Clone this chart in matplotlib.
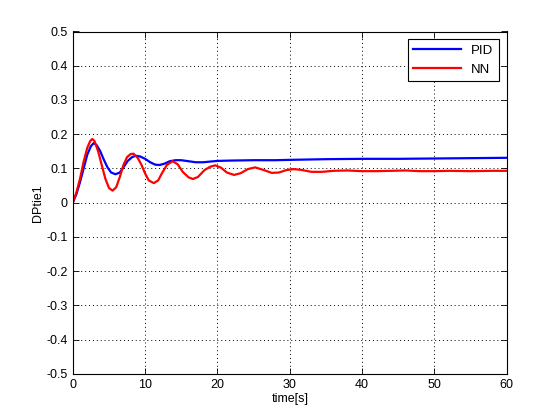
import numpy as np
import matplotlib

matplotlib.use("Agg")
import matplotlib.pyplot as plt

# values
t_pid = [0, 0.5, 1.0, 1.5, 2.0, 2.5, 2.9, 3.3, 3.8, 4.3, 4.8, 5.3, 5.9, 6.5, 7.0, 7.6,
         8.2, 8.7, 9.3, 10.0, 10.7, 11.4, 12.0, 12.7, 13.4, 14.2, 15.0, 16.0, 17.0,
         18.0, 19.0, 20.0, 22.0, 25.0, 28.0, 30.0, 35.0, 40.0, 45.0, 50.0, 55.0, 60.0]
pid = [0, 0.025, 0.06, 0.10, 0.14, 0.165, 0.174, 0.168, 0.15, 0.125, 0.103, 0.088,
       0.083, 0.088, 0.103, 0.122, 0.133, 0.137, 0.135, 0.128, 0.118, 0.111, 0.110,
       0.114, 0.121, 0.124, 0.124, 0.121, 0.118, 0.118, 0.120, 0.122, 0.123, 0.124,
       0.124, 0.125, 0.127, 0.128, 0.128, 0.129, 0.130, 0.131]

t_nn = [0, 0.5, 1.0, 1.5, 2.0, 2.4, 2.7, 3.0, 3.5, 4.0, 4.5, 5.0, 5.5, 6.0, 6.5, 7.0,
        7.5, 8.0, 8.4, 9.0, 9.5, 10.0, 10.5, 11.2, 11.8, 12.3, 13.0, 13.8, 14.5, 15.2,
        16.0, 16.6, 17.3, 18.2, 19.0, 19.7, 20.5, 21.3, 22.3, 23.2, 24.2, 25.2, 26.3,
        27.5, 28.5, 29.5, 30.5, 31.5, 33.0, 34.5, 36.0, 38.0, 40.0, 42.0, 44.0, 46.0,
        48.0, 50.0, 52.0, 55.0, 58.0, 60.0]
nn = [0, 0.03, 0.07, 0.12, 0.16, 0.18, 0.186, 0.18, 0.15, 0.11, 0.07, 0.043, 0.035,
      0.045, 0.075, 0.11, 0.133, 0.142, 0.143, 0.13, 0.11, 0.085, 0.065, 0.057, 0.065,
      0.085, 0.11, 0.121, 0.112, 0.09, 0.074, 0.069, 0.075, 0.095, 0.105, 0.109, 0.102,
      0.088, 0.081, 0.086, 0.098, 0.103, 0.096, 0.087, 0.088, 0.095, 0.098, 0.096,
      0.090, 0.090, 0.093, 0.094, 0.092, 0.092, 0.093, 0.094, 0.092, 0.092, 0.093,
      0.092, 0.093, 0.093]

x_ticks = np.arange(0, 61, 10)
y_ticks = np.round(np.arange(-0.5, 0.51, 0.1), 1)

plt.rcParams.update({"font.family": "Liberation Sans", "font.size": 9})

fig = plt.figure(figsize=(5.6, 4.2), dpi=100)
ax = fig.add_axes([0.13, 0.11, 0.775, 0.815])
ax.plot(t_pid, pid, color="#0000ff", lw=1.6, label="PID")
ax.plot(t_nn, nn, color="#ff0000", lw=1.6, label="NN")

ax.set_xlim(0, 60)
ax.set_ylim(-0.5, 0.5)
ax.set_xticks(x_ticks)
ax.set_yticks(y_ticks)
ax.set_yticklabels(["0" if v == 0 else f"{v:g}" for v in y_ticks])
ax.tick_params(direction="in", top=True, right=True, length=4, width=0.6)
ax.grid(True, color="black", ls=(0, (1, 3)), lw=0.7)
for s in ax.spines.values():
    s.set_linewidth(0.8)
ax.set_xlabel("time[s]", labelpad=2)
ax.set_ylabel("DPtie1", labelpad=2)

leg = ax.legend(loc="upper right", fancybox=False, framealpha=1, edgecolor="black",
                borderaxespad=0.6, handlelength=3.6, fontsize=9.5)
leg.get_frame().set_linewidth(0.8)

fig.savefig("out.png", dpi=100, facecolor="white")
